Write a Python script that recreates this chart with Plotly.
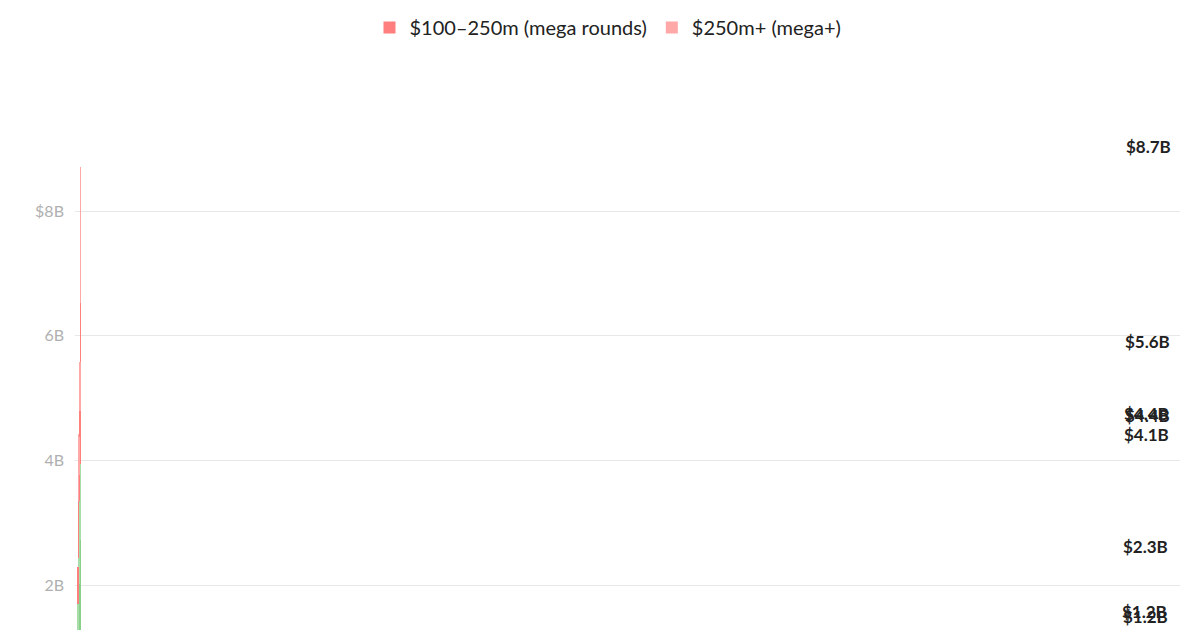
import plotly.graph_objects as go

years = ["2013", "2014", "2015", "2016", "2017", "2018", "2019", "2020", "2021", "2022", "2023"]
series = [
    "<$15m (early)",
    "$15–40m (growth)",
    "$40–100m (late)",
    "$100–250m (mega rounds)",
    "$250m+ (mega+)",
]
colors = ["#a8c8ec", "#88d08c", "#a8dca8", "#ff7f7f", "#ffa8a8"]
legend_ids = ["legend", "legend", "legend", "legend2", "legend2"]

early = [0.10, 0.25, 0.15, 0.15, 0.05, 0.05, 0.05, 0.06, 0.20, 1.20, 0.10]
growth = [0.10, 0.30, 0.20, 0.45, 0.45, 0.95, 1.76, 1.95, 1.96, 1.53, 2.64]
late = [0.05, 0.15, 0.10, 0.30, 0.30, 0.69, 0.63, 1.50, 1.19, 1.51, 1.21]
mega = [0.0, 0.06, 0.0, 0.34, 0.22, 0.60, 0.91, 0.26, 0.69, 0.55, 2.57]
mega_plus = [0.0, 0.0, 0.0, 0.0, 0.15, 0.0, 1.07, 0.32, 0.33, 0.79, 2.19]
totals = [0.25, 0.76, 0.45, 1.24, 1.17, 2.29, 4.42, 4.08, 4.39, 5.58, 8.71]
total_labels = ["$250M", "$760.7M", "$450M", "$1.2B", "$1.2B", "$2.3B", "$4.4B", "$4.1B", "$4.4B", "$5.6B", "$8.7B"]

fig = go.Figure()
for name, vals, col, lg in zip(series, [early, growth, late, mega, mega_plus], colors, legend_ids):
    fig.add_bar(x=years, y=vals, name=name, marker_color=col, marker_line_width=0, legend=lg)

for yr, tot, lab in zip(years, totals, total_labels):
    fig.add_annotation(
        x=yr, y=tot, text=f"<b>{lab}</b>", showarrow=False, yanchor="bottom", yshift=8,
        font=dict(size=17, color="#222", family="Lato"),
    )

legend_style = dict(
    orientation="h", x=0.5, xanchor="center", xref="container", yref="container",
    font=dict(size=20, color="#222"), traceorder="normal", itemwidth=30,
)
fig.update_layout(
    width=1200, height=630,
    barmode="stack", bargap=0.19,
    plot_bgcolor="white", paper_bgcolor="white",
    margin=dict(l=67, r=28, t=60, b=0),
    font=dict(family="Lato", color="#222"),
    legend=dict(y=0.997, yanchor="bottom", **legend_style),
    legend2=dict(y=1.0, yanchor="top", **legend_style),
    xaxis=dict(visible=False),
    yaxis=dict(
        range=[1.15, 10.3], tickvals=[2, 4, 6, 8], ticktext=["2B", "4B", "6B", "$8B"],
        gridcolor="#e8e8e8", zeroline=False, tickfont=dict(size=16, color="#b0b0b0"),
        ticks="", ticklabelstandoff=10,
    ),
)

fig.write_html("out.html")
